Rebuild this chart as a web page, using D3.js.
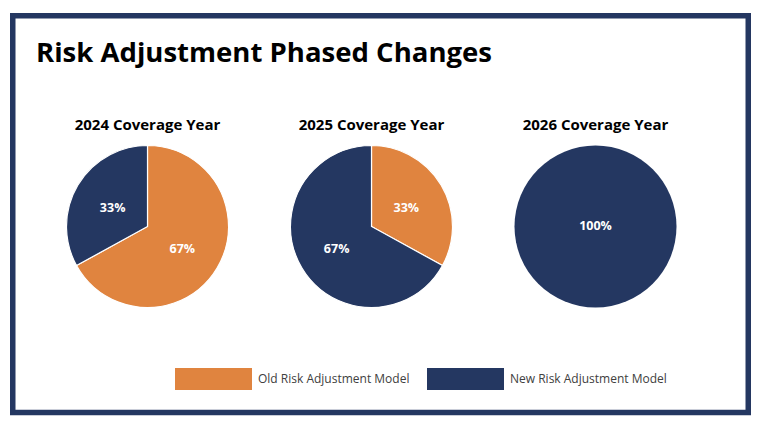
<!DOCTYPE html>
<html><head><meta charset="utf-8">
<script src="https://cdn.jsdelivr.net/npm/d3@7"></script>
<style>html,body{margin:0;padding:0;background:#fff;}svg{display:block;}</style>
</head><body>
<svg id="c" width="768" height="424"></svg>
<script>
const title = "Risk Adjustment Phased Changes";
const years = ["2024 Coverage Year", "2025 Coverage Year", "2026 Coverage Year"];
const seriesNames = ["Old Risk Adjustment Model", "New Risk Adjustment Model"];
const oldModel = [67, 33, 0];
const newModel = [33, 67, 100];
const colors = ["#E0843F", "#243761"];

const svg = d3.select("#c");
const font = "'Open Sans', 'Noto Sans', sans-serif";

// frame
svg.append("rect").attr("x", 12.75).attr("y", 15.75).attr("width", 735.5).attr("height", 396.75)
  .attr("fill", "#fff").attr("stroke", "#243761").attr("stroke-width", 5.5);

// title
const t = svg.append("text").attr("x", 36).attr("y", 62).text(title)
  .attr("font-family", font).attr("font-weight", 700).attr("font-size", 27.5).attr("fill", "#000");
t.attr("textLength", 456).attr("lengthAdjust", "spacingAndGlyphs");

const x = d3.scalePoint().domain(years).range([147.5, 595.5]);
const color = d3.scaleOrdinal().domain(seriesNames).range(colors);
const r = 81;
const pie = d3.pie().sort(null).value(d => d.value);
const arc = d3.arc().innerRadius(0).outerRadius(r);
const labelArc = d3.arc().innerRadius(r * 0.5).outerRadius(r * 0.5);

years.forEach((yr, i) => {
  const g = svg.append("g").attr("transform", `translate(${x(yr)},226.5)`);
  const data = [
    {name: seriesNames[0], value: oldModel[i]},
    {name: seriesNames[1], value: newModel[i]}
  ];
  const arcs = pie(data).filter(d => d.data.value > 0);
  g.selectAll("path").data(arcs).join("path")
    .attr("d", arc).attr("fill", d => color(d.data.name))
    .attr("stroke", arcs.length > 1 ? "#fff" : "none").attr("stroke-width", 1.2);
  g.selectAll("text.lbl").data(arcs).join("text").attr("class", "lbl")
    .attr("transform", d => arcs.length > 1 ? `translate(${labelArc.centroid(d)})` : "translate(0,-2)")
    .attr("text-anchor", "middle").attr("dy", "0.45em")
    .attr("font-family", font).attr("font-weight", 700).attr("font-size", 12.5).attr("fill", "#fff")
    .text(d => d.data.value + "%");
  svg.append("text").attr("x", x(yr)).attr("y", 130).attr("text-anchor", "middle")
    .attr("font-family", font).attr("font-weight", 700).attr("font-size", 15).attr("fill", "#000")
    .text(yr);
});

// legend
const legX = [175, 427];
seriesNames.forEach((n, i) => {
  svg.append("rect").attr("x", legX[i]).attr("y", 368).attr("width", 77).attr("height", 22)
    .attr("fill", color(n));
  svg.append("text").attr("x", legX[i] + 83).attr("y", 379).attr("dy", "0.35em")
    .attr("font-family", font).attr("font-size", 12).attr("fill", "#404040").text(n);
});
</script>
</body></html>
